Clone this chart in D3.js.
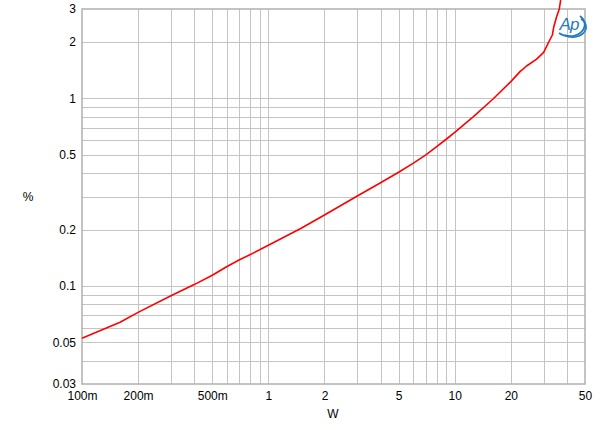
<!DOCTYPE html>
<html>
<head>
<meta charset="utf-8">
<script src="https://cdn.jsdelivr.net/npm/d3@7"></script>
<style>
body { margin: 0; background: #fff; }
text { font-family: "Liberation Sans", Arial, sans-serif; }
</style>
</head>
<body>
<svg id="chart" width="600" height="430"></svg>
<script>
// power (W) vs THD+N (%)
var power = [0.1, 0.16, 0.2, 0.3, 0.4, 0.5, 0.6, 0.7, 0.8, 1.0, 1.5, 2, 3, 4, 5, 6, 7, 8, 9, 10,
             12.6, 16, 20, 22.4, 24.3, 27.5, 30, 31.7, 33.4, 34, 35.2, 36.4, 37];
var thd = [0.0526, 0.064, 0.0723, 0.0887, 0.1017, 0.114, 0.127, 0.138, 0.147, 0.165, 0.203, 0.239,
           0.302, 0.355, 0.404, 0.452, 0.50, 0.553, 0.606, 0.66, 0.80, 0.99, 1.23, 1.39, 1.49, 1.62,
           1.76, 1.97, 2.18, 2.41, 2.73, 3.0, 3.35];

var xTicks = [0.1, 0.2, 0.5, 1, 2, 5, 10, 20, 50];
var xTickLabels = ["100m", "200m", "500m", "1", "2", "5", "10", "20", "50"];
var yTicks = [0.03, 0.05, 0.1, 0.2, 0.5, 1, 2, 3];
var yTickLabels = ["0.03", "0.05", "0.1", "0.2", "0.5", "1", "2", "3"];

// plot box (window.top is taken, so use other names)
var pLeft = 82, pRight = 585, pTop = 9, pBottom = 384;
var svg = d3.select("#chart");

var x = d3.scaleLog().domain([0.1, 50]).range([pLeft, pRight]);
var y = d3.scaleLog().domain([0.03, 3]).range([pBottom, pTop]);

// grid lines, 1..9 in every decade
var xGrid = [], yGrid = [];
[0.1, 1, 10].forEach(function(d) {
	for (var k = 1; k < 10; k++) {
		var v = d * k;
		if (v > 0.1 && v < 50) xGrid.push(v);
	}
});
[0.01, 0.1, 1].forEach(function(d) {
	for (var k = 1; k < 10; k++) {
		var v = d * k;
		if (v > 0.03 && v < 3) yGrid.push(v);
	}
});

svg.append("g").selectAll("line").data(xGrid).enter().append("line")
	.attr("x1", function(d) { return Math.round(x(d)) + 0.5; })
	.attr("x2", function(d) { return Math.round(x(d)) + 0.5; })
	.attr("y1", pTop).attr("y2", pBottom)
	.style("stroke", "#c4c4c4").style("stroke-width", 1);

svg.append("g").selectAll("line").data(yGrid).enter().append("line")
	.attr("y1", function(d) { return Math.round(y(d)) + 0.5; })
	.attr("y2", function(d) { return Math.round(y(d)) + 0.5; })
	.attr("x1", pLeft).attr("x2", pRight)
	.style("stroke", "#c4c4c4").style("stroke-width", 1);

// frame
svg.append("rect")
	.attr("x", pLeft).attr("y", pTop)
	.attr("width", pRight - pLeft).attr("height", pBottom - pTop)
	.style("fill", "none").style("stroke", "#b0b0b0").style("stroke-width", 1.5);

// axes (labels only)
var xAxis = d3.axisBottom(x).tickValues(xTicks).tickSize(0)
	.tickFormat(function(d, i) { return xTickLabels[i]; });
var gx = svg.append("g").attr("transform", "translate(0," + pBottom + ")").call(xAxis);
gx.select(".domain").remove();
gx.selectAll("text").attr("dy", "1.05em").style("font-size", "12px").style("fill", "#000")
	.style("font-family", "'Liberation Sans', Arial, sans-serif");

var yAxis = d3.axisLeft(y).tickValues(yTicks).tickSize(0)
	.tickFormat(function(d, i) { return yTickLabels[i]; });
var gy = svg.append("g").attr("transform", "translate(" + (pLeft - 3) + ",0)").call(yAxis);
gy.select(".domain").remove();
gy.selectAll("text").style("font-size", "12px").style("fill", "#000")
	.style("font-family", "'Liberation Sans', Arial, sans-serif");

svg.append("text").attr("x", 333).attr("y", 418).attr("text-anchor", "middle")
	.style("font-size", "12px").style("fill", "#000").text("W");
svg.append("text").attr("x", 28).attr("y", 201).attr("text-anchor", "middle")
	.style("font-size", "12px").style("fill", "#000").text("%");

// the trace
var line = d3.line()
	.x(function(d) { return x(d[0]); })
	.y(function(d) { return y(d[1]); });
var pts = power.map(function(p, i) { return [p, thd[i]]; });
svg.append("path")
	.attr("d", line(pts))
	.style("fill", "none").style("stroke", "#ff0000").style("stroke-width", 1.6)
	.style("stroke-linejoin", "round");

// Ap logo
var logo = svg.append("g").attr("transform", "translate(570,24)");
logo.append("path")
	.attr("d", "M -11 9 A 13 10 0 0 0 10 -8")
	.style("fill", "none").style("stroke", "#1f7ac0").style("stroke-width", 1.8);
logo.append("path")
	.attr("d", "M 11 -5 A 13 10 0 0 1 -5 11")
	.style("fill", "none").style("stroke", "#1f7ac0").style("stroke-width", 1.6);
logo.append("text").attr("x", -1).attr("y", 6).attr("text-anchor", "middle")
	.style("font-size", "17px").style("font-style", "italic").style("fill", "#1f7ac0")
	.style("letter-spacing", "-1px").text("Ap");
</script>
</body>
</html>
